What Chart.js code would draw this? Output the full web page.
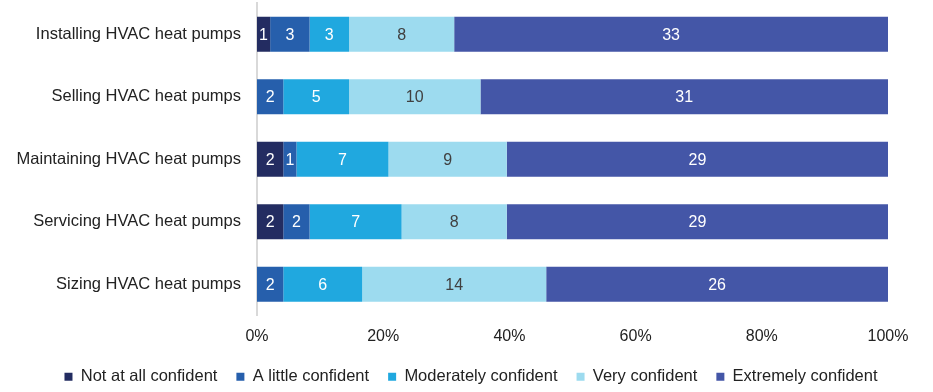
<!DOCTYPE html>
<html><head><meta charset="utf-8">
<script src="https://cdn.jsdelivr.net/npm/chart.js@4/dist/chart.umd.min.js"></script>
<style>html,body{margin:0;padding:0;background:#fff}#w{width:933px;height:392px;position:relative}</style>
</head><body><div id="w"><canvas id="c"></canvas></div>
<script>
const categories = ["Installing HVAC heat pumps","Selling HVAC heat pumps","Maintaining HVAC heat pumps","Servicing HVAC heat pumps","Sizing HVAC heat pumps"];
const seriesNames = ["Not at all confident","A little confident","Moderately confident","Very confident","Extremely confident"];
const notAtAll = [1,0,2,2,0];
const aLittle = [3,2,1,2,2];
const moderately = [3,5,7,7,6];
const very = [8,10,9,8,14];
const extremely = [33,31,29,29,26];
const tickLabels = ["0%","20%","40%","60%","80%","100%"];
const colors = ["#232C61","#265FAC","#20A8DF","#9DDBEF","#4456A7"];
const labelColors = ["#fff","#fff","#fff","#404040","#fff"];
const counts = [notAtAll,aLittle,moderately,very,extremely];
const totals = categories.map((_,i)=>counts.reduce((s,a)=>s+a[i],0));
const FONT = "'Liberation Sans',Arial,sans-serif";

const labelPlugin = {
  id:'lbl',
  afterDatasetsDraw(chart){
    const ctx = chart.ctx;
    ctx.save();
    ctx.font = "16px " + FONT;
    ctx.textAlign='center'; ctx.textBaseline='middle';
    chart.data.datasets.forEach((ds,di)=>{
      const meta = chart.getDatasetMeta(di);
      meta.data.forEach((el,i)=>{
        const v = counts[di][i];
        if(!v) return;
        ctx.fillStyle = labelColors[di];
        ctx.fillText(String(v),(el.x+el.base)/2,el.y+1);
      });
    });
    ctx.restore();
  }
};

new Chart(document.getElementById('c'),{
  type:'bar',
  data:{labels:categories,datasets:seriesNames.map((n,di)=>({
    label:n,
    data:counts[di].map((v,i)=>v/totals[i]*100),
    backgroundColor:colors[di],
    borderWidth:0,
    barPercentage:0.56,categoryPercentage:1
  }))},
  options:{
    indexAxis:'y',responsive:true,maintainAspectRatio:false,animation:false,
    layout:{padding:{left:9,right:0,top:3,bottom:-3}},
    plugins:{
      legend:{position:'bottom',labels:{boxWidth:8,boxHeight:8,padding:19,color:'#222',font:{family:FONT,size:16.5}}},
      tooltip:{enabled:false}
    },
    scales:{
      x:{stacked:true,min:0,max:100,
        afterFit:(s)=>{s.height=34;s.paddingLeft=0;s.paddingRight=45;},
        ticks:{stepSize:20,color:'#222',padding:11,font:{family:FONT,size:16},callback:(v,i)=>tickLabels[i]},
        grid:{display:false,drawTicks:false},border:{display:false}},
      y:{stacked:true,
        afterFit:(s)=>{s.width=248;s.paddingTop=0;s.paddingBottom=0;},
        ticks:{color:'#222',padding:16,font:{family:FONT,size:16.5}},
        grid:{display:false,drawTicks:false},border:{display:true,color:'#D9D9D9',width:2}}
    }
  },
  plugins:[labelPlugin]
});
</script></body></html>
